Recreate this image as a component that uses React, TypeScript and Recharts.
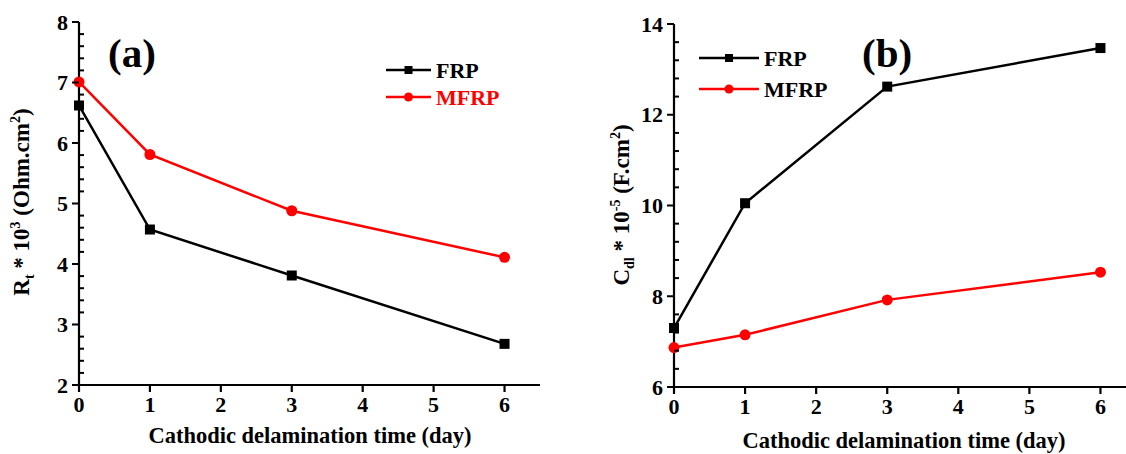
import React from "react"
import { Legend, Line, LineChart, XAxis, YAxis } from "recharts"

const days = [0, 1, 3, 6]
const frpRt = [6.62, 4.57, 3.81, 2.68]
const mfrpRt = [7.01, 5.81, 4.88, 4.11]
const frpCdl = [7.3, 10.05, 12.62, 13.47]
const mfrpCdl = [6.87, 7.15, 7.92, 8.53]

const xTicks = [0, 1, 2, 3, 4, 5, 6]
const rtMajor = [2, 3, 4, 5, 6, 7, 8]
const cdlMajor = [6, 8, 10, 12, 14]

const font = "Liberation Serif"

// add 4 minor ticks between each pair of majors
const withMinors = (major: number[]) => {
  const out: number[] = []
  for (let i = 0; i < major.length - 1; i++) {
    const step = (major[i + 1] - major[i]) / 5
    for (let k = 0; k < 5; k++) out.push(+(major[i] + k * step).toFixed(4))
  }
  out.push(major[major.length - 1])
  return out
}

const rtData = days.map((d, i) => ({ day: d, frp: frpRt[i], mfrp: mfrpRt[i] }))
const cdlData = days.map((d, i) => ({ day: d, frp: frpCdl[i], mfrp: mfrpCdl[i] }))

const txt = { fontFamily: font, fontWeight: "bold" as const }

const YTick = (props: any) => {
  const { y, payload, axisX, major } = props
  const v = payload.value
  const isMajor = major.some((m: number) => Math.abs(m - v) < 1e-6)
  if (!isMajor) {
    return <line x1={axisX} x2={axisX + 5} y1={y} y2={y} stroke="#000" strokeWidth={2} />
  }
  return (
    <g>
      <line x1={axisX - 7} x2={axisX} y1={y} y2={y} stroke="#000" strokeWidth={2} />
      <text x={axisX - 11} y={y} dy="0.35em" textAnchor="end" style={{ ...txt, fontSize: 22 }} fill="#000">
        {v}
      </text>
    </g>
  )
}

const XTick = (props: any) => (
  <text x={props.x} y={props.y + 17} textAnchor="middle" style={{ ...txt, fontSize: 22 }} fill="#000">
    {props.payload.value}
  </text>
)

const SquareDot = (p: any) => (
  <rect key={p.key} x={p.cx - 5} y={p.cy - 5} width={10} height={10} fill="#000" />
)
const CircleDot = (p: any) => <circle key={p.key} cx={p.cx} cy={p.cy} r={5.5} fill="#ff0000" />

const LegendBox = ({ payload, redText, lineLen, gap }: any) => (
  <svg width={150} height={70} style={{ display: "block" }}>
    {(payload || []).map((e: any, i: number) => {
      const y = 12 + i * gap
      const color = e.color
      const mid = 2 + lineLen / 2
      return (
        <g key={e.value}>
          <line x1={2} x2={2 + lineLen} y1={y} y2={y} stroke={color} strokeWidth={2.5} />
          {e.type === "square" ? (
            <rect x={mid - 4} y={y - 4} width={8} height={8} fill={color} />
          ) : (
            <circle cx={mid} cy={y} r={4.5} fill={color} />
          )}
          <text x={lineLen + 7} y={y} dy="0.35em" style={{ ...txt, fontSize: 22 }}
            fill={redText ? color : "#000"}>
            {e.value}
          </text>
        </g>
      )
    })}
  </svg>
)

const axisStyle = { stroke: "#000", strokeWidth: 2.2 }

export default function App() {
  return (
    <div style={{ position: "absolute", left: 0, top: 0, width: 1126, height: 454, overflow: "hidden", background: "#fff" }}>
      <div style={{ position: "absolute", left: 0, top: 0 }}>
        <LineChart width={560} height={454} data={rtData} margin={{ top: 22, right: 20, bottom: 39, left: 0 }}>
          <XAxis xAxisId="b" type="number" dataKey="day" domain={[0, 6.5]} ticks={xTicks} height={30}
            tickSize={7} tickMargin={3} axisLine={axisStyle} tickLine={axisStyle} tick={<XTick />}
            label={() => (
              <text x={310} y={443} textAnchor="middle" style={{ ...txt, fontSize: 22.5 }} fill="#000">
                Cathodic delamination time (day)
              </text>
            )} />
          <XAxis xAxisId="t" orientation="top" type="number" dataKey="day" domain={[0, 6.5]} height={0}
            tick={false} tickLine={false} axisLine={axisStyle} />
          <YAxis yAxisId="l" type="number" domain={[2, 8]} ticks={withMinors(rtMajor)} width={79}
            interval={0} tickLine={false} axisLine={axisStyle} tick={<YTick axisX={79} major={rtMajor} />}
            label={() => (
              <text transform="translate(29,202) rotate(-90)" textAnchor="middle" style={{ ...txt, fontSize: 23 }} fill="#000">
                R<tspan fontSize={14} dy={5}>t</tspan><tspan dy={-5}> * 10</tspan>
                <tspan fontSize={14} dy={-9}>3</tspan><tspan dy={9}> (Ohm.cm</tspan>
                <tspan fontSize={14} dy={-9}>2</tspan><tspan dy={9}>)</tspan>
              </text>
            )} />
          <YAxis yAxisId="r" orientation="right" type="number" domain={[2, 8]} width={0}
            tick={false} tickLine={false} axisLine={axisStyle} />
          <Legend layout="vertical" align="center" verticalAlign="middle"
            wrapperStyle={{ left: 384, top: 58, width: 150 }}
            content={(p: any) => <LegendBox payload={p.payload} redText lineLen={45} gap={27} />} />
          <Line xAxisId="b" yAxisId="l" dataKey="frp" name="FRP" stroke="#000" strokeWidth={2.5}
            legendType="square" dot={SquareDot} isAnimationActive={false} />
          <Line xAxisId="b" yAxisId="l" dataKey="mfrp" name="MFRP" stroke="#ff0000" strokeWidth={2.5}
            legendType="circle" dot={CircleDot} isAnimationActive={false} />
        </LineChart>
        <div style={{ position: "absolute", left: 108, top: 30, fontFamily: font, fontWeight: "bold", fontSize: 41, lineHeight: "46px" }}>
          (a)
        </div>
      </div>
      <div style={{ position: "absolute", left: 566, top: 0 }}>
        <LineChart width={580} height={454} data={cdlData} margin={{ top: 24, right: 10, bottom: 37, left: 0 }}>
          <XAxis xAxisId="b" type="number" dataKey="day" domain={[0, 6.5]} ticks={xTicks} height={30}
            tickSize={7} tickMargin={3} axisLine={axisStyle} tickLine={axisStyle} tick={<XTick />}
            label={() => (
              <text x={338} y={448} textAnchor="middle" style={{ ...txt, fontSize: 22.5 }} fill="#000">
                Cathodic delamination time (day)
              </text>
            )} />
          <XAxis xAxisId="t" orientation="top" type="number" dataKey="day" domain={[0, 6.5]} height={0}
            tick={false} tickLine={false} axisLine={axisStyle} />
          <YAxis yAxisId="l" type="number" domain={[6, 14]} ticks={withMinors(cdlMajor)} width={108}
            interval={0} tickLine={false} axisLine={axisStyle} tick={<YTick axisX={108} major={cdlMajor} />}
            label={() => (
              <text transform="translate(63,205) rotate(-90)" textAnchor="middle" style={{ ...txt, fontSize: 23 }} fill="#000">
                C<tspan fontSize={14} dy={5}>dl</tspan><tspan dy={-5}> * 10</tspan>
                <tspan fontSize={14} dy={-9}>-5</tspan><tspan dy={9}> (F.cm</tspan>
                <tspan fontSize={14} dy={-9}>2</tspan><tspan dy={9}>)</tspan>
              </text>
            )} />
          <YAxis yAxisId="r" orientation="right" type="number" domain={[6, 14]} width={0}
            tick={false} tickLine={false} axisLine={axisStyle} />
          <Legend layout="vertical" align="center" verticalAlign="middle"
            wrapperStyle={{ left: 131, top: 46, width: 150 }}
            content={(p: any) => <LegendBox payload={p.payload} lineLen={60} gap={31} />} />
          <Line xAxisId="b" yAxisId="l" dataKey="frp" name="FRP" stroke="#000" strokeWidth={2.5}
            legendType="square" dot={SquareDot} isAnimationActive={false} />
          <Line xAxisId="b" yAxisId="l" dataKey="mfrp" name="MFRP" stroke="#ff0000" strokeWidth={2.5}
            legendType="circle" dot={CircleDot} isAnimationActive={false} />
        </LineChart>
        <div style={{ position: "absolute", left: 296, top: 30, fontFamily: font, fontWeight: "bold", fontSize: 41, lineHeight: "46px" }}>
          (b)
        </div>
      </div>
    </div>
  )
}
